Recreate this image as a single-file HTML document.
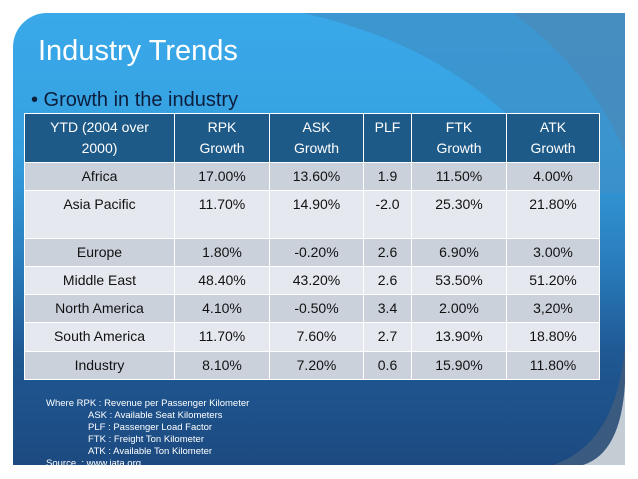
<!DOCTYPE html>
<html><head><meta charset="utf-8"><style>
body{margin:0;width:638px;height:479px;background:#fff;overflow:hidden;font-family:"Liberation Sans","DejaVu Sans",sans-serif;}
#slide{position:absolute;left:13px;top:13px;width:612px;height:452px;border-top-left-radius:34px;overflow:hidden;
background:linear-gradient(180deg,#3aa9e9 0%,#35a0e0 30%,#2a7dbd 55%,#1f5893 75%,#1c4a80 100%);}
#band{position:absolute;left:0;top:0;width:612px;height:452px;}
#title{position:absolute;left:25px;top:22px;font-size:29px;color:#fff;}
#sub{position:absolute;left:18px;top:76px;font-size:20px;color:#0d1e3c;}
table{position:absolute;left:11px;top:100px;border-collapse:collapse;font-size:14px;color:#111;}
td,th{border:1.5px solid #fff;text-align:center;padding:0;}
th{background:#1e5a88;color:#fff;font-weight:normal;vertical-align:top;padding-top:3px;line-height:21px;}
tr.a td{background:#cbd1db;} tr.b td{background:#e5e8ee;}
td{vertical-align:top;padding-top:5px;}
#notes{position:absolute;left:33px;top:385px;font-size:9.5px;color:#fff;line-height:12px;}
</style></head><body>
<div id="slide">
<svg id="band">
<path d="M290 0 Q470 40 560 180 L612 180 L612 0Z" fill="#3d8fc6" opacity="0.7"/>
<path d="M500 0 Q580 60 612 140 L612 0Z" fill="#4d89b6" opacity="0.6"/>
<path d="M612 330 Q605 430 540 452 L612 452Z" fill="#3a5a80"/>
<path d="M612 370 Q608 440 570 452 L612 452Z" fill="#c4ccd4"/>
</svg>
<div id="title">Industry Trends</div>
<div id="sub">• Growth in the industry</div>
<table>
<tr style="height:49px"><th style="width:149px">YTD (2004 over<br>2000)</th><th style="width:94px">RPK<br>Growth</th><th style="width:93px">ASK<br>Growth</th><th style="width:47px">PLF</th><th style="width:94px">FTK<br>Growth</th><th style="width:92px">ATK<br>Growth</th></tr>
<tr class="a" style="height:28px"><td>Africa</td><td>17.00%</td><td>13.60%</td><td>1.9</td><td>11.50%</td><td>4.00%</td></tr>
<tr class="b" style="height:48px"><td>Asia Pacific</td><td>11.70%</td><td>14.90%</td><td>-2.0</td><td>25.30%</td><td>21.80%</td></tr>
<tr class="a" style="height:28px"><td>Europe</td><td>1.80%</td><td>-0.20%</td><td>2.6</td><td>6.90%</td><td>3.00%</td></tr>
<tr class="b" style="height:28px"><td>Middle East</td><td>48.40%</td><td>43.20%</td><td>2.6</td><td>53.50%</td><td>51.20%</td></tr>
<tr class="a" style="height:28px"><td>North America</td><td>4.10%</td><td>-0.50%</td><td>3.4</td><td>2.00%</td><td>3,20%</td></tr>
<tr class="b" style="height:29px"><td>South America</td><td>11.70%</td><td>7.60%</td><td>2.7</td><td>13.90%</td><td>18.80%</td></tr>
<tr class="a" style="height:28px"><td>Industry</td><td>8.10%</td><td>7.20%</td><td>0.6</td><td>15.90%</td><td>11.80%</td></tr>
</table>
<div id="notes">Where RPK : Revenue per Passenger Kilometer<br>
<span style="padding-left:42px">ASK : Available Seat Kilometers</span><br>
<span style="padding-left:42px">PLF : Passenger Load Factor</span><br>
<span style="padding-left:42px">FTK : Freight Ton Kilometer</span><br>
<span style="padding-left:42px">ATK : Available Ton Kilometer</span><br>
Source &nbsp;: www.iata.org</div>
</div>
</body></html>
